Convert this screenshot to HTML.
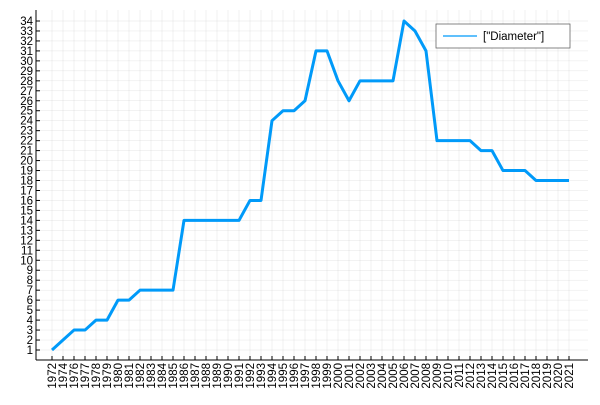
<!DOCTYPE html>
<html><head><meta charset="utf-8"><style>
body{margin:0;background:#fff;font-family:"Liberation Sans",sans-serif}
</style></head><body>
<svg id="chart" width="600" height="400" xmlns="http://www.w3.org/2000/svg" font-family="Liberation Sans, sans-serif"></svg>
<script>
const categories=["1972","1974","1976","1977","1978","1979","1980","1981","1982","1983","1984","1985","1986","1987","1988","1989","1990","1991","1992","1993","1994","1995","1996","1997","1998","1999","2000","2001","2002","2003","2004","2005","2006","2007","2008","2009","2010","2011","2012","2013","2014","2015","2016","2017","2018","2019","2020","2021"];
const diameter=[1,2,3,3,4,4,6,6,7,7,7,7,14,14,14,14,14,14,16,16,24,25,25,26,31,31,28,26,28,28,28,28,34,33,31,22,22,22,22,21,21,19,19,19,18,18,18,18];
const yTicks=[1,2,3,4,5,6,7,8,9,10,11,12,13,14,15,16,17,18,19,20,21,22,23,24,25,26,27,28,29,30,31,32,33,34];
const seriesName='["Diameter"]';
const svg=document.getElementById('chart');
const NS='http://www.w3.org/2000/svg';
const L=36,R=588,T=10,B=360;
const x=i=>52+i*(569-52)/(categories.length-1);
const y=v=>350-(v-1)*(350-21)/33;
function mk(tag,attrs,parent){const e=document.createElementNS(NS,tag);for(const k in attrs)e.setAttribute(k,attrs[k]);(parent||svg).appendChild(e);return e;}
const grid=mk('g',{});


categories.forEach((c,i)=>{mk('line',{x1:x(i),x2:x(i),y1:T,y2:B,stroke:'#000','stroke-opacity':0.1,'stroke-width':0.5},grid);});
yTicks.forEach(v=>{mk('line',{x1:L,x2:R,y1:y(v),y2:y(v),stroke:'#000','stroke-opacity':0.1,'stroke-width':0.5},grid);});
const ax=mk('g',{});


mk('line',{x1:L,x2:R,y1:B,y2:B,stroke:'#000','stroke-width':1},ax);
mk('line',{x1:L,x2:L,y1:T,y2:B,stroke:'#000','stroke-width':1},ax);
categories.forEach((c,i)=>{
 mk('line',{x1:x(i),x2:x(i),y1:B,y2:B-4,stroke:'#000'},ax);
 const t=mk('text',{x:0,y:0,'font-size':11.5,'text-anchor':'end',transform:`translate(${x(i)+4},${B+3}) rotate(-90)`},ax);
 
 
 t.textContent=c;
});
yTicks.forEach(v=>{
 mk('line',{x1:L,x2:L+4,y1:y(v),y2:y(v),stroke:'#000'},ax);
 const t=mk('text',{x:L-3,y:y(v)+4,'font-size':11.5,'text-anchor':'end'},ax);
 
 
 t.textContent=v;
});
const line=mk('polyline',{points:diameter.map((v,i)=>x(i)+','+y(v)).join(' '),fill:'none',stroke:'#009af9','stroke-width':3,'stroke-linejoin':'round'});


const lg=mk('g',{});


mk('rect',{x:436,y:24,width:134,height:24,fill:'#fff',stroke:'#000','stroke-opacity':0.6,'stroke-width':0.8},lg);
mk('line',{x1:443,x2:477,y1:36,y2:36,stroke:'#009af9','stroke-width':1.2},lg);
const lt=mk('text',{x:483,y:40,'font-size':11.5},lg);


lt.textContent=seriesName;
</script>
</body></html>
